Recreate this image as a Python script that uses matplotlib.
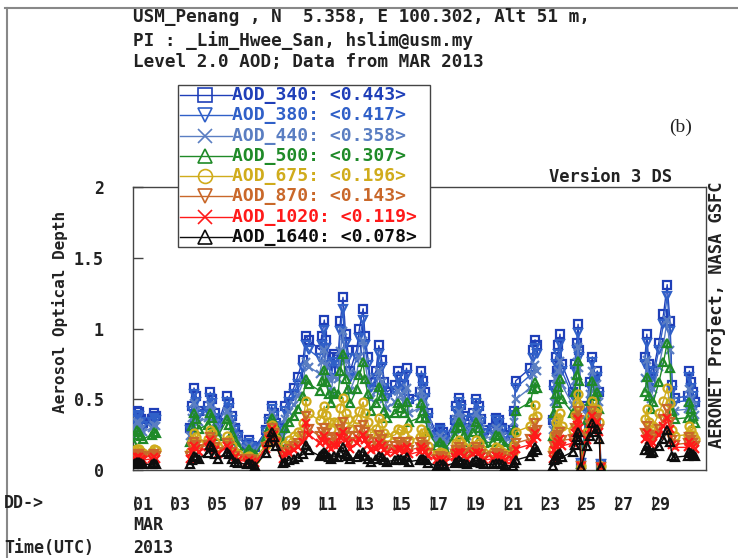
import numpy as np
import matplotlib
matplotlib.use("Agg")
import matplotlib.pyplot as plt
from matplotlib.lines import Line2D
from matplotlib.patches import Rectangle
import matplotlib.transforms as mtransforms

# ---------------- data (day of March 2013, UTC) ----------------
t_day = [
    1.02, 1.12, 1.22, 1.32, 1.42, 1.55,
    2.05, 2.15, 2.25,
    4.08, 4.20, 4.30, 4.42, 4.55,
    5.05, 5.18, 5.30, 5.45, 5.60,
    6.10, 6.22, 6.35, 6.50, 6.70,
    7.15, 7.30, 7.45, 7.60,
    8.20, 8.35, 8.50, 8.62, 8.75,
    9.10, 9.25, 9.45, 9.70, 9.90, 10.20, 10.35, 10.50,
    11.10, 11.22, 11.35, 11.45, 11.58, 11.72, 11.85,
    12.10, 12.22, 12.36, 12.50, 12.62, 12.75,
    13.10, 13.25, 13.45, 13.55, 13.70, 13.85,
    14.15, 14.30, 14.45, 14.60, 14.75,
    15.20, 15.35, 15.50, 15.65, 15.80, 15.95,
    16.50, 16.60, 16.70, 16.82, 16.95,
    17.45, 17.60, 17.75, 17.90,
    18.40, 18.50, 18.62, 18.75, 18.90, 19.05,
    19.40, 19.55, 19.70, 19.85, 19.98,
    20.50, 20.65, 20.80, 20.95, 21.10,
    21.55, 21.62, 21.70, 22.50, 22.65, 22.75, 22.85,
    23.70, 23.78, 23.86, 23.94, 24.02, 24.10, 24.20,
    24.80, 24.90, 25.00, 25.08, 25.15, 25.25,
    25.55, 25.70, 25.85, 26.00, 26.12, 26.22, 26.30,
    28.70, 28.80, 28.90, 29.00, 29.15, 29.45, 29.70, 29.90, 30.05, 30.17, 30.30,
    31.00, 31.10, 31.20, 31.30, 31.40,
]

aod_340 = [
    0.30, 0.37, 0.42, 0.41, 0.36, 0.33,
    0.36, 0.40, 0.38,
    0.30, 0.45, 0.58, 0.52, 0.42,
    0.45, 0.55, 0.50, 0.40, 0.33,
    0.52, 0.47, 0.38, 0.30, 0.25,
    0.18, 0.21, 0.17, 0.16,
    0.28, 0.36, 0.45, 0.40, 0.33,
    0.30, 0.45, 0.52, 0.58, 0.66, 0.78, 0.95, 0.92,
    0.85, 0.95, 1.06, 0.92, 0.80, 0.70, 0.82,
    0.80, 1.05, 1.22, 0.96, 0.85, 0.70,
    0.85, 1.00, 1.14, 0.95, 0.80, 0.62,
    0.70, 0.88, 0.78, 0.62, 0.55,
    0.60, 0.70, 0.66, 0.60, 0.72, 0.50,
    0.55, 0.70, 0.63, 0.55, 0.40,
    0.25, 0.30, 0.27, 0.22,
    0.35, 0.45, 0.51, 0.46, 0.38, 0.30,
    0.40, 0.50, 0.45, 0.36, 0.28,
    0.30, 0.37, 0.35, 0.30, 0.25,
    0.28, 0.42, 0.63, 0.72, 0.85, 0.92, 0.88,
    0.35, 0.60, 0.80, 0.70, 0.88, 0.96, 0.75,
    0.55, 0.75, 0.90, 1.03, 0.85, 0.05,
    0.45, 0.62, 0.80, 0.66, 0.70, 0.55, 0.04,
    0.80, 0.96, 0.75, 0.62, 0.70, 0.90, 1.10, 1.31, 1.05, 0.60, 0.51,
    0.52, 0.70, 0.62, 0.55, 0.48,
]
aod_380 = [
    0.28, 0.35, 0.39, 0.38, 0.34, 0.31,
    0.34, 0.37, 0.35,
    0.28, 0.42, 0.54, 0.48, 0.39,
    0.42, 0.51, 0.47, 0.37, 0.31,
    0.48, 0.44, 0.35, 0.28, 0.23,
    0.17, 0.19, 0.16, 0.15,
    0.27, 0.34, 0.43, 0.38, 0.31,
    0.28, 0.42, 0.48, 0.54, 0.61, 0.72, 0.88, 0.85,
    0.79, 0.88, 0.99, 0.86, 0.74, 0.65, 0.76,
    0.74, 0.98, 1.14, 0.89, 0.79, 0.65,
    0.79, 0.93, 1.06, 0.88, 0.74, 0.58,
    0.65, 0.82, 0.73, 0.58, 0.51,
    0.56, 0.65, 0.61, 0.56, 0.67, 0.47,
    0.51, 0.65, 0.59, 0.51, 0.37,
    0.23, 0.28, 0.25, 0.20,
    0.33, 0.42, 0.48, 0.43, 0.35, 0.28,
    0.37, 0.47, 0.42, 0.34, 0.26,
    0.28, 0.35, 0.33, 0.28, 0.23,
    0.26, 0.39, 0.58, 0.67, 0.79, 0.86, 0.82,
    0.33, 0.56, 0.75, 0.65, 0.82, 0.89, 0.70,
    0.52, 0.71, 0.85, 0.97, 0.80, 0.05,
    0.43, 0.59, 0.76, 0.63, 0.66, 0.52, 0.04,
    0.75, 0.90, 0.70, 0.58, 0.66, 0.85, 1.03, 1.23, 0.98, 0.56, 0.48,
    0.49, 0.66, 0.58, 0.52, 0.45,
]
aod_440 = [
    0.24, 0.30, 0.34, 0.33, 0.29, 0.27,
    0.30, 0.32, 0.31,
    0.24, 0.37, 0.47, 0.42, 0.34,
    0.37, 0.46, 0.42, 0.33, 0.27,
    0.42, 0.38, 0.31, 0.24, 0.20,
    0.15, 0.17, 0.14, 0.13,
    0.25, 0.32, 0.40, 0.35, 0.29,
    0.24, 0.36, 0.41, 0.46, 0.52, 0.62, 0.76, 0.73,
    0.68, 0.76, 0.85, 0.74, 0.64, 0.56, 0.66,
    0.64, 0.84, 0.98, 0.77, 0.68, 0.56,
    0.68, 0.80, 0.91, 0.76, 0.64, 0.50,
    0.56, 0.70, 0.62, 0.50, 0.44,
    0.48, 0.56, 0.53, 0.48, 0.58, 0.40,
    0.44, 0.56, 0.50, 0.44, 0.32,
    0.20, 0.24, 0.22, 0.18,
    0.28, 0.36, 0.41, 0.37, 0.30, 0.24,
    0.32, 0.40, 0.36, 0.29, 0.22,
    0.24, 0.30, 0.28, 0.24, 0.20,
    0.22, 0.34, 0.50, 0.58, 0.68, 0.74, 0.70,
    0.28, 0.48, 0.64, 0.56, 0.70, 0.77, 0.60,
    0.46, 0.63, 0.76, 0.87, 0.72, 0.04,
    0.39, 0.54, 0.70, 0.58, 0.61, 0.48, 0.03,
    0.65, 0.78, 0.61, 0.50, 0.57, 0.73, 0.89, 1.06, 0.85, 0.49, 0.42,
    0.43, 0.57, 0.50, 0.45, 0.39,
]
aod_500 = [
    0.20, 0.25, 0.28, 0.27, 0.24, 0.22,
    0.25, 0.27, 0.26,
    0.20, 0.31, 0.40, 0.36, 0.29,
    0.32, 0.40, 0.37, 0.29, 0.24,
    0.36, 0.32, 0.26, 0.21, 0.17,
    0.13, 0.15, 0.12, 0.11,
    0.23, 0.30, 0.37, 0.33, 0.27,
    0.20, 0.30, 0.34, 0.38, 0.43, 0.52, 0.64, 0.61,
    0.56, 0.63, 0.71, 0.62, 0.54, 0.47, 0.55,
    0.54, 0.70, 0.82, 0.64, 0.57, 0.47,
    0.57, 0.67, 0.76, 0.64, 0.54, 0.42,
    0.47, 0.59, 0.52, 0.42, 0.37,
    0.40, 0.47, 0.44, 0.40, 0.48, 0.34,
    0.37, 0.47, 0.42, 0.37, 0.27,
    0.17, 0.20, 0.18, 0.15,
    0.24, 0.30, 0.34, 0.31, 0.25, 0.20,
    0.27, 0.34, 0.30, 0.24, 0.19,
    0.20, 0.25, 0.24, 0.20, 0.17,
    0.19, 0.28, 0.42, 0.48, 0.57, 0.62, 0.58,
    0.24, 0.40, 0.54, 0.47, 0.59, 0.64, 0.50,
    0.40, 0.55, 0.67, 0.77, 0.63, 0.04,
    0.35, 0.49, 0.63, 0.52, 0.55, 0.43, 0.03,
    0.55, 0.66, 0.52, 0.43, 0.48, 0.62, 0.76, 0.90, 0.72, 0.42, 0.36,
    0.37, 0.48, 0.43, 0.38, 0.33,
]
aod_675 = [
    0.11, 0.14, 0.15, 0.15, 0.13, 0.12,
    0.13, 0.15, 0.14,
    0.13, 0.20, 0.26, 0.23, 0.19,
    0.22, 0.28, 0.26, 0.20, 0.16,
    0.24, 0.21, 0.17, 0.13, 0.11,
    0.09, 0.10, 0.08, 0.08,
    0.18, 0.25, 0.32, 0.28, 0.22,
    0.13, 0.18, 0.21, 0.24, 0.27, 0.33, 0.49, 0.40,
    0.35, 0.40, 0.45, 0.39, 0.34, 0.29, 0.34,
    0.34, 0.44, 0.51, 0.40, 0.36, 0.29,
    0.36, 0.42, 0.48, 0.40, 0.34, 0.26,
    0.29, 0.37, 0.33, 0.26, 0.23,
    0.25, 0.29, 0.28, 0.25, 0.30, 0.21,
    0.23, 0.29, 0.26, 0.23, 0.17,
    0.11, 0.13, 0.12, 0.10,
    0.15, 0.19, 0.21, 0.19, 0.16, 0.13,
    0.17, 0.21, 0.19, 0.15, 0.12,
    0.13, 0.16, 0.15, 0.13, 0.11,
    0.12, 0.18, 0.27, 0.31, 0.37, 0.46, 0.38,
    0.15, 0.25, 0.34, 0.29, 0.37, 0.40, 0.31,
    0.28, 0.39, 0.47, 0.54, 0.45, 0.03,
    0.27, 0.38, 0.49, 0.41, 0.43, 0.34, 0.03,
    0.36, 0.43, 0.34, 0.28, 0.31, 0.40, 0.49, 0.58, 0.47, 0.28, 0.24,
    0.25, 0.31, 0.28, 0.25, 0.22,
]
aod_870 = [
    0.08, 0.10, 0.11, 0.11, 0.10, 0.09,
    0.10, 0.11, 0.10,
    0.10, 0.16, 0.20, 0.18, 0.15,
    0.18, 0.23, 0.21, 0.16, 0.13,
    0.19, 0.17, 0.13, 0.10, 0.08,
    0.07, 0.08, 0.07, 0.06,
    0.16, 0.23, 0.30, 0.26, 0.20,
    0.10, 0.13, 0.15, 0.17, 0.19, 0.24, 0.38, 0.29,
    0.24, 0.27, 0.30, 0.26, 0.22, 0.19, 0.23,
    0.22, 0.29, 0.34, 0.27, 0.24, 0.20,
    0.24, 0.28, 0.32, 0.27, 0.22, 0.17,
    0.20, 0.25, 0.22, 0.17, 0.15,
    0.17, 0.20, 0.18, 0.17, 0.20, 0.14,
    0.16, 0.20, 0.18, 0.16, 0.12,
    0.08, 0.10, 0.09, 0.07,
    0.11, 0.14, 0.16, 0.14, 0.12, 0.10,
    0.13, 0.16, 0.14, 0.11, 0.09,
    0.10, 0.12, 0.11, 0.10, 0.08,
    0.09, 0.13, 0.19, 0.22, 0.27, 0.33, 0.28,
    0.10, 0.17, 0.23, 0.20, 0.25, 0.27, 0.21,
    0.22, 0.30, 0.37, 0.42, 0.35, 0.03,
    0.23, 0.32, 0.42, 0.35, 0.37, 0.29, 0.02,
    0.26, 0.31, 0.25, 0.21, 0.23, 0.29, 0.36, 0.43, 0.34, 0.21, 0.18,
    0.19, 0.23, 0.21, 0.19, 0.17,
]
aod_1020 = [
    0.07, 0.08, 0.09, 0.09, 0.08, 0.07,
    0.08, 0.09, 0.08,
    0.08, 0.13, 0.17, 0.15, 0.13,
    0.16, 0.21, 0.19, 0.14, 0.11,
    0.17, 0.15, 0.12, 0.09, 0.07,
    0.06, 0.07, 0.06, 0.05,
    0.15, 0.22, 0.29, 0.25, 0.19,
    0.08, 0.11, 0.12, 0.14, 0.16, 0.20, 0.33, 0.25,
    0.19, 0.21, 0.24, 0.20, 0.17, 0.15, 0.18,
    0.18, 0.23, 0.27, 0.21, 0.19, 0.15,
    0.19, 0.22, 0.25, 0.21, 0.18, 0.14,
    0.15, 0.19, 0.17, 0.14, 0.12,
    0.13, 0.15, 0.15, 0.13, 0.16, 0.11,
    0.13, 0.16, 0.15, 0.13, 0.10,
    0.07, 0.08, 0.07, 0.06,
    0.09, 0.12, 0.13, 0.12, 0.10, 0.08,
    0.11, 0.13, 0.12, 0.09, 0.07,
    0.08, 0.10, 0.09, 0.08, 0.07,
    0.07, 0.10, 0.15, 0.18, 0.22, 0.26, 0.23,
    0.08, 0.14, 0.18, 0.16, 0.20, 0.22, 0.17,
    0.19, 0.26, 0.32, 0.36, 0.30, 0.03,
    0.21, 0.29, 0.38, 0.32, 0.34, 0.27, 0.02,
    0.22, 0.26, 0.21, 0.18, 0.19, 0.25, 0.31, 0.37, 0.29, 0.18, 0.16,
    0.16, 0.20, 0.18, 0.16, 0.15,
]
aod_1640 = [
    0.04, 0.05, 0.06, 0.06, 0.05, 0.04,
    0.04, 0.05, 0.04,
    0.04, 0.07, 0.10, 0.09, 0.08,
    0.12, 0.18, 0.16, 0.11, 0.08,
    0.13, 0.11, 0.08, 0.06, 0.05,
    0.04, 0.05, 0.04, 0.03,
    0.12, 0.20, 0.27, 0.23, 0.17,
    0.05, 0.06, 0.07, 0.08, 0.09, 0.11, 0.18, 0.14,
    0.10, 0.11, 0.13, 0.11, 0.09, 0.08, 0.10,
    0.09, 0.13, 0.16, 0.11, 0.10, 0.08,
    0.09, 0.11, 0.13, 0.10, 0.08, 0.06,
    0.08, 0.10, 0.09, 0.07, 0.06,
    0.07, 0.08, 0.08, 0.07, 0.09, 0.06,
    0.07, 0.08, 0.08, 0.07, 0.05,
    0.03, 0.04, 0.04, 0.03,
    0.05, 0.06, 0.07, 0.06, 0.05, 0.04,
    0.06, 0.07, 0.06, 0.05, 0.04,
    0.04, 0.05, 0.05, 0.04, 0.03,
    0.03, 0.05, 0.07, 0.10, 0.13, 0.16, 0.14,
    0.03, 0.07, 0.10, 0.08, 0.11, 0.12, 0.09,
    0.13, 0.18, 0.23, 0.27, 0.21, 0.02,
    0.17, 0.24, 0.33, 0.27, 0.29, 0.22, 0.02,
    0.14, 0.17, 0.14, 0.12, 0.13, 0.17, 0.22, 0.28, 0.20, 0.10, 0.09,
    0.10, 0.13, 0.12, 0.11, 0.10,
]

series_names = ["AOD_340", "AOD_380", "AOD_440", "AOD_500",
                "AOD_675", "AOD_870", "AOD_1020", "AOD_1640"]
series_means = ["0.443", "0.417", "0.358", "0.307",
                "0.196", "0.143", "0.119", "0.078"]
series_values = [aod_340, aod_380, aod_440, aod_500,
                 aod_675, aod_870, aod_1020, aod_1640]

day_ticks = [1, 3, 5, 7, 9, 11, 13, 15, 17, 19, 21, 23, 25, 27, 29]
day_labels = ["01", "03", "05", "07", "09", "11", "13", "15",
              "17", "19", "21", "23", "25", "27", "29"]
y_ticks = [0, 0.5, 1, 1.5, 2]
y_labels = ["0", "0.5", "1", "1.5", "2"]

# ---------------- style ----------------
colors = ["#1f3fb8", "#3060c8", "#5a7ec2", "#1f8a28",
          "#d0ac1c", "#c9682a", "#ff1a1a", "#0d0d0d"]
markers = ["s", "v", "x", "^", "o", "v", "x", "^"]
MONO = "DejaVu Sans Mono"

W, H = 738, 558
fig = plt.figure(figsize=(W / 100, H / 100), dpi=100)
fig.patch.set_facecolor("white")


def fx(px):
    return px / W


def fy(py):
    return 1 - py / H


ax_l, ax_r, ax_t, ax_b = 133, 706, 187, 470
ax = fig.add_axes([fx(ax_l), fy(ax_b), fx(ax_r - ax_l), (ax_b - ax_t) / H])

t = np.array(t_day, dtype=float)
gap = np.diff(t) > 0.82
idx = np.where(gap)[0] + 1
for vals, c, m in zip(series_values, colors, markers):
    v = np.array(vals, dtype=float)
    tt = np.insert(t, idx, np.nan)
    vv = np.insert(v, idx, np.nan)
    ax.plot(tt, vv, color=c, lw=1.0, marker=m, ms=5.8, mfc="none",
            mec=c, mew=1.6, zorder=3)

ax.set_xlim(1, 32)
ax.set_ylim(0, 2)
for s in ax.spines.values():
    s.set_color("#444444")
    s.set_linewidth(1.0)

ax.set_yticks(y_ticks)
ax.set_yticklabels(y_labels, fontfamily=MONO, fontweight="bold",
                   fontsize=12, color="#222222")
ax.tick_params(axis="y", direction="in", length=7, width=1,
               color="#444444", pad=21)
ax.set_xticks(day_ticks)
ax.set_xticklabels(day_labels, fontfamily=MONO, fontweight="bold",
                   fontsize=12, color="#222222", ha="left")
ax.tick_params(axis="x", length=0, pad=19)

# little bar marks at each day label (as in the reference)
trans = (mtransforms.blended_transform_factory(ax.transData, ax.transAxes)
         + mtransforms.ScaledTranslation(2 / 100, 0, fig.dpi_scale_trans))
ax.vlines(day_ticks, -0.092, -0.14, transform=trans, colors="#222222",
          lw=1.0, clip_on=False)

fig.text(fx(60), fy(312), "Aerosol Optical Depth", rotation=90,
         ha="center", va="center", fontfamily=MONO,
         fontweight="bold", fontsize=11.5, color="#222222")

# header texts
hdr = dict(fontfamily=MONO, fontweight="bold", fontsize=12.7,
           color="#222222", va="center", ha="left")
fig.text(fx(133), fy(17), "USM_Penang , N  5.358, E 100.302, Alt 51 m,", **hdr)
fig.text(fx(133), fy(41), "PI : _Lim_Hwee_San, hslim@usm.my", **hdr)
fig.text(fx(133), fy(62), "Level 2.0 AOD; Data from MAR 2013", **hdr)
fig.text(fx(549), fy(177), "Version 3 DS", **dict(hdr, fontsize=12.3))
fig.text(fx(717), fy(315), "AERONET Project, NASA GSFC", rotation=90,
         **dict(hdr, ha="center", fontsize=12.3))
fig.text(fx(681), fy(127), "(b)", fontfamily="Liberation Serif",
         fontsize=14, ha="center", va="center", color="#222222")

# bottom texts
fig.text(fx(4), fy(503), "DD->", **dict(hdr, fontsize=12))
fig.text(fx(133), fy(525), "MAR", **dict(hdr, fontsize=12))
fig.text(fx(4), fy(548), "Time(UTC)", **dict(hdr, fontsize=12))
fig.text(fx(133), fy(548), "2013", **dict(hdr, fontsize=12))

# legend box
lg_l, lg_r, lg_t, lg_b = 178, 430, 85, 247
fig.patches.append(Rectangle((fx(lg_l), fy(lg_b)), fx(lg_r - lg_l),
                             (lg_b - lg_t) / H, transform=fig.transFigure,
                             facecolor="white", edgecolor="#444444",
                             lw=1.0, zorder=5))
row_h = (lg_b - lg_t) / 8
for i, (name, mean, c, m) in enumerate(zip(series_names, series_means,
                                           colors, markers)):
    yc = lg_t + row_h * (i + 0.5)
    fig.lines.append(Line2D([fx(180), fx(232)], [fy(yc), fy(yc)],
                            transform=fig.transFigure, color=c, lw=1.0,
                            zorder=6))
    fig.lines.append(Line2D([fx(205)], [fy(yc)], transform=fig.transFigure,
                            marker=m, ms=10, mfc="none", mec=c, mew=1.2,
                            zorder=6))
    fig.text(fx(232), fy(yc), f"{name}: <{mean}>", fontfamily=MONO,
             fontweight="bold", fontsize=13, color=c, va="center",
             ha="left", zorder=7)

# scanned image border
fig.lines.append(Line2D([fx(5), fx(738)], [fy(8), fy(8)],
                        transform=fig.transFigure, color="#888888", lw=1.5))
fig.lines.append(Line2D([fx(7), fx(7)], [fy(8), fy(558)],
                        transform=fig.transFigure, color="#888888", lw=1.5))

fig.savefig("out.png", dpi=100, facecolor="white")
